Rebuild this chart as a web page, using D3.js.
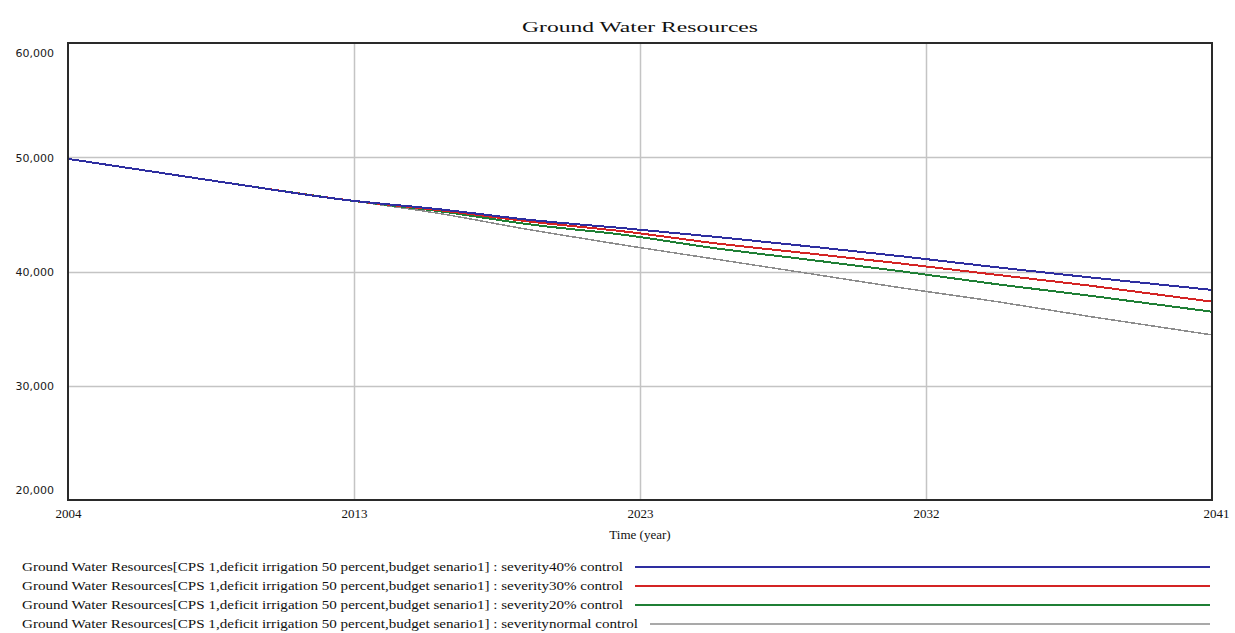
<!DOCTYPE html>
<html>
<head>
<meta charset="utf-8">
<script src="https://cdn.jsdelivr.net/npm/d3@7"></script>
<style>
  html, body { margin: 0; padding: 0; background: #fff; }
  svg { display: block; }
</style>
</head>
<body>
<svg id="chart" width="1235" height="633"></svg>
<script>
// Ground water resources under different severity controls (simulation output)
const years = [2004, 2009, 2013, 2016, 2019, 2022, 2025, 2028, 2031, 2034, 2037, 2041];
const severity40 = [49860, 47820, 46260, 45450, 44500, 43780, 43020, 42190, 41320, 40380, 39500, 38390];
const severity30 = [49860, 47820, 46260, 45370, 44350, 43500, 42450, 41570, 40680, 39720, 38780, 37360];
const severity20 = [49860, 47820, 46260, 45280, 44100, 43200, 42010, 41020, 40000, 38900, 37900, 36480];
const severityNormal = [49860, 47820, 46260, 45080, 43620, 42300, 41060, 39810, 38550, 37380, 36080, 34450];

const yTicks = [20000, 30000, 40000, 50000, 60000];
const yTickLabels = ["20,000", "30,000", "40,000", "50,000", "60,000"];
const xTicks = [2004, 2013.25, 2022.5, 2031.75, 2041];
const xTickLabels = ["2004", "2013", "2023", "2032", "2041"];

const seriesNames = [
  "Ground Water Resources[CPS 1,deficit irrigation 50 percent,budget senario1] : severity40% control",
  "Ground Water Resources[CPS 1,deficit irrigation 50 percent,budget senario1] : severity30% control",
  "Ground Water Resources[CPS 1,deficit irrigation 50 percent,budget senario1] : severity20% control",
  "Ground Water Resources[CPS 1,deficit irrigation 50 percent,budget senario1] : severitynormal control"
];
const seriesColors = ["#2e2ea0", "#d42424", "#1f7f35", "#8c8c8c"];
const seriesWidths = [2, 2, 2, 1.5];
const seriesValues = [severity40, severity30, severity20, severityNormal];

const svg = d3.select("#chart");
const plot = { left: 68, right: 1212, top: 43, bottom: 500 };

const x = d3.scaleLinear().domain([2004, 2041]).range([plot.left, plot.right]);
const y = d3.scaleLinear().domain([20000, 60000]).range([plot.bottom, plot.top]);

// Title
svg.append("text")
  .attr("x", 640).attr("y", 32)
  .attr("text-anchor", "middle")
  .attr("font-family", "'Liberation Serif', 'Times New Roman', serif")
  .attr("font-size", 15)
  .attr("fill", "#111")
  .attr("textLength", 236)
  .attr("lengthAdjust", "spacingAndGlyphs")
  .text("Ground Water Resources");

// Grid lines
const grid = svg.append("g").attr("stroke", "#c4c4c4").attr("stroke-width", 1.5);
grid.selectAll("line.h")
  .data(yTicks.filter(v => v > 20000 && v < 60000))
  .join("line")
  .attr("x1", plot.left).attr("x2", plot.right)
  .attr("y1", d => Math.round(y(d)) + 0.5).attr("y2", d => Math.round(y(d)) + 0.5);
grid.selectAll("line.v")
  .data(xTicks.filter(v => v > 2004 && v < 2041))
  .join("line")
  .attr("y1", plot.top).attr("y2", plot.bottom)
  .attr("x1", d => Math.round(x(d)) + 0.5).attr("x2", d => Math.round(x(d)) + 0.5);

// Y axis labels
const yAxis = d3.axisLeft(y)
  .tickValues(yTicks)
  .tickFormat((d, i) => yTickLabels[i])
  .tickSize(0)
  .tickPadding(0);
const yAxisG = svg.append("g")
  .attr("transform", `translate(${plot.left - 14},0)`)
  .call(yAxis);
yAxisG.select(".domain").remove();
yAxisG.selectAll("text")
  .attr("font-family", "'DejaVu Sans', Verdana, sans-serif")
  .attr("font-size", 11)
  .attr("fill", "#1a1a1a")
  .attr("dy", "0.35em")
  .attr("y", d => {
    const p = y(d);
    return Math.min(Math.max(p, plot.top + 10), plot.bottom - 10) - p;
  });

// X axis labels
const xAxis = d3.axisBottom(x)
  .tickValues(xTicks)
  .tickFormat((d, i) => xTickLabels[i])
  .tickSize(0)
  .tickPadding(0);
const xAxisG = svg.append("g")
  .attr("transform", `translate(0,${plot.bottom + 9})`)
  .call(xAxis);
xAxisG.select(".domain").remove();
xAxisG.selectAll("text")
  .attr("font-family", "'Liberation Serif', 'Times New Roman', serif")
  .attr("font-size", 13)
  .attr("fill", "#111")
  .attr("dx", (d, i) => i === xTicks.length - 1 ? 4 : 0);

svg.append("text")
  .attr("x", 640).attr("y", 539)
  .attr("text-anchor", "middle")
  .attr("font-family", "'Liberation Serif', 'Times New Roman', serif")
  .attr("font-size", 13)
  .attr("fill", "#111")
  .text("Time (year)");

// Series lines (drawn last-to-first so the first series sits on top)
const line = d3.line()
  .x((d, i) => x(years[i]))
  .y(d => y(d))
  .curve(d3.curveMonotoneX);
const linesG = svg.append("g");
for (let s = seriesValues.length - 1; s >= 0; s--) {
  linesG.append("path")
    .datum(seriesValues[s])
    .attr("fill", "none")
    .attr("stroke", seriesColors[s])
    .attr("stroke-width", seriesWidths[s])
    .attr("shape-rendering", "crispEdges")
    .attr("d", line);
}

// Plot frame
svg.append("rect")
  .attr("x", plot.left).attr("y", plot.top)
  .attr("width", plot.right - plot.left)
  .attr("height", plot.bottom - plot.top)
  .attr("fill", "none")
  .attr("stroke", "#2a2a2a")
  .attr("stroke-width", 2);

// Legend
const legendRows = [567, 586, 605, 624];
const legendTextWidths = [601, 601, 601, 616];
const legend = svg.append("g");
seriesNames.forEach((name, i) => {
  legend.append("text")
    .attr("x", 22).attr("y", legendRows[i] + 4)
    .attr("font-family", "'Liberation Serif', 'Times New Roman', serif")
    .attr("font-size", 12)
    .attr("fill", "#111")
    .attr("textLength", legendTextWidths[i])
    .attr("lengthAdjust", "spacingAndGlyphs")
    .text(name);
  legend.append("line")
    .attr("x1", 22 + legendTextWidths[i] + 12)
    .attr("x2", 1210)
    .attr("y1", legendRows[i]).attr("y2", legendRows[i])
    .attr("stroke", seriesColors[i])
    .attr("stroke-width", seriesWidths[i]);
});
</script>
</body>
</html>
